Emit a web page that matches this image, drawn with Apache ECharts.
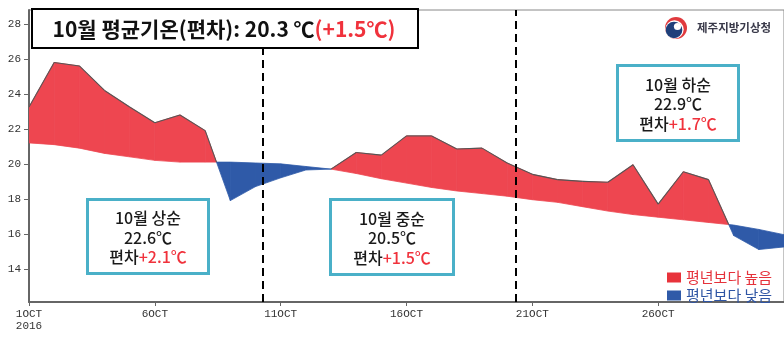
<!DOCTYPE html>
<html><head><meta charset="utf-8">
<script src="https://cdn.jsdelivr.net/npm/echarts@6/dist/echarts.min.js"></script>
<style>html,body{margin:0;padding:0;background:#fff}#c{width:784px;height:337px}</style>
</head><body><div id="c"></div>
<script>
// ---- data ----
const days = [1,2,3,4,5,6,7,8,9,10,11,12,13,14,15,16,17,18,19,20,21,22,23,24,25,26,27,28,29,30,31];
const observed = [23.25,25.8,25.6,24.2,23.25,22.35,22.8,21.9,17.9,18.7,19.2,19.65,19.7,20.65,20.5,21.6,21.6,20.85,20.9,20.05,19.4,19.1,19.0,18.95,19.95,17.7,19.55,19.1,15.9,15.1,15.25];
const normal   = [21.2,21.1,20.9,20.6,20.4,20.2,20.1,20.1,20.1,20.05,20.0,19.85,19.7,19.45,19.15,18.9,18.65,18.45,18.3,18.15,17.95,17.8,17.55,17.3,17.1,16.95,16.8,16.65,16.5,16.25,15.95];
const xTicks = [1,6,11,16,21,26];
const yTicks = [14,16,18,20,22,24,26,28];
const dividers = [10.3, 20.33];
const seriesNames = ['평년보다 높음','평년보다 낮음'];
const titleMain = '10월 평균기온(편차): 20.3 ℃';
const titleAnom = '(+1.5℃)';
const periodTitles = ['10월 상순','10월 중순','10월 하순'];
const periodMeans = ['22.6℃','20.5℃','22.9℃'];
const periodAnoms = ['+2.1℃','+1.5℃','+1.7℃'];
const orgName = '제주지방기상청';

// ---- chart ----
const RED = '#ee4650', BLUE = '#2f5aa8', TXT_RED = '#f0323c';
const segs = days.slice(0, -1).map((d, i) => [d, days[i+1], observed[i], observed[i+1], normal[i], normal[i+1]]);

function makeRender(sign, color, edge) {
  return function (params, api) {
    const x0 = api.value(0), x1 = api.value(1), o0 = api.value(2), o1 = api.value(3), n0 = api.value(4), n1 = api.value(5);
    const d0 = (o0 - n0) * sign, d1 = (o1 - n1) * sign;
    let pts, top;
    if (d0 >= 0 && d1 >= 0) {
      if (d0 === 0 && d1 === 0) return;
      pts = [[x0,o0],[x1,o1],[x1,n1],[x0,n0]]; top = [[x0,o0],[x1,o1]];
    } else if (d0 <= 0 && d1 <= 0) {
      return;
    } else {
      const t = d0 / (d0 - d1);
      const xc = x0 + t * (x1 - x0), yc = n0 + t * (n1 - n0);
      if (d0 > 0) { pts = [[x0,o0],[xc,yc],[x0,n0]]; top = [[x0,o0],[xc,yc]]; }
      else { pts = [[xc,yc],[x1,o1],[x1,n1]]; top = [[xc,yc],[x1,o1]]; }
    }
    const children = [{
      type: 'polygon', shape: { points: pts.map(p => api.coord(p)) },
      style: { fill: color, stroke: color, lineWidth: 0.8 }
    }];
    if (edge) children.push({
      type: 'polyline', z2: 10, shape: { points: top.map(p => api.coord(p)) },
      style: { stroke: edge, lineWidth: 1.1, fill: null }
    });
    return { type: 'group', children };
  };
}

const chart = echarts.init(document.getElementById('c'), null, { renderer: 'canvas' });

const boxFont = { fontFamily: 'Noto Sans CJK KR', fontSize: 16, fontWeight: 500, lineHeight: 19.5 };
function periodBox(x, y, w, h, i) {
  return {
    type: 'group', left: x, top: y, z: 100,
    children: [
      { type: 'rect', shape: { x: 0, y: 0, width: w, height: h }, style: { fill: '#fff', stroke: '#4ab0c8', lineWidth: 3 } },
      { type: 'text', x: w / 2, y: h / 2 + 1, style: {
        text: '{a|' + periodTitles[i] + '}\n{a|' + periodMeans[i] + '}\n{a|편차}{r|' + periodAnoms[i] + '}',
        align: 'center', verticalAlign: 'middle',
        rich: {
          a: Object.assign({ fill: '#1a1a1a' }, boxFont),
          r: Object.assign({ fill: TXT_RED }, boxFont)
        }
      } }
    ]
  };
}

chart.setOption({
  animation: false,
  grid: { left: 29, top: 10, width: 756, height: 292, show: true, borderColor: '#888', borderWidth: 1 },
  xAxis: {
    type: 'value', min: 1, max: 31,
    axisLine: { lineStyle: { color: '#666', width: 2 } },
    axisTick: { show: true, length: 4, lineStyle: { color: '#666' }, customValues: xTicks },
    axisLabel: {
      customValues: xTicks, margin: 6,
      fontFamily: 'Liberation Mono', fontSize: 11, color: '#333', lineHeight: 12,
      formatter: v => v === 1 ? v + 'OCT\n2016' : v + 'OCT'
    },
    splitLine: { show: false }
  },
  yAxis: {
    type: 'value', min: 12.1, max: 28.8,
    axisLine: { show: true, lineStyle: { color: '#666', width: 2 } },
    axisTick: { show: true, length: 5, lineStyle: { color: '#666' }, customValues: yTicks },
    axisLabel: { customValues: yTicks, margin: 8, fontFamily: 'Liberation Mono', fontSize: 11, color: '#333' },
    splitLine: { show: false }
  },
  legend: {
    orient: 'vertical', left: 662, top: 265, itemWidth: 14, itemHeight: 10, itemGap: 3, icon: 'rect',
    textStyle: { fontFamily: 'Noto Sans CJK KR', fontSize: 15 },
    data: [
      { name: seriesNames[0], textStyle: { color: '#e5323b' } },
      { name: seriesNames[1], textStyle: { color: '#2f55a4' } }
    ]
  },
  series: [
    {
      type: 'custom', name: seriesNames[0], data: segs, clip: true,
      encode: { x: [0, 1], y: [2, 3, 4, 5] },
      itemStyle: { color: '#e8333b' },
      renderItem: makeRender(1, RED, '#555'),
      markLine: {
        silent: true, symbol: 'none', label: { show: false },
        lineStyle: { color: '#000', width: 2, type: [8, 5] },
        data: dividers.map(v => ({ xAxis: v }))
      }
    },
    {
      type: 'custom', name: seriesNames[1], data: segs, clip: true,
      encode: { x: [0, 1], y: [2, 3, 4, 5] },
      itemStyle: { color: BLUE },
      renderItem: makeRender(-1, BLUE, null)
    }
  ],
  graphic: [
    { type: 'rect', z: 100, shape: { x: 32, y: 9, width: 386, height: 39 }, style: { fill: '#fff', stroke: '#000', lineWidth: 2 } },
    { type: 'text', z: 101, x: 224, y: 29, style: {
      text: '{a|' + titleMain + '}{b|' + titleAnom + '}', align: 'center', verticalAlign: 'middle',
      rich: {
        a: { fontFamily: 'Noto Sans CJK KR', fontSize: 21, fontWeight: 'bold', fill: '#111' },
        b: { fontFamily: 'Noto Sans CJK KR', fontSize: 21, fontWeight: 'bold', fill: TXT_RED }
      } } },
    periodBox(86, 198, 121, 74, 0),
    periodBox(329, 198, 123, 75, 1),
    periodBox(616, 64, 121, 75, 2),
    // logo
    { type: 'circle', z: 100, shape: { cx: 676, cy: 28, r: 11 }, style: { fill: '#e03a3e' } },
    { type: 'circle', z: 101, shape: { cx: 674.5, cy: 29.5, r: 9.2 }, style: { fill: '#fff' } },
    { type: 'circle', z: 102, shape: { cx: 674, cy: 30, r: 8.3 }, style: { fill: '#1f3f7a' } },
    { type: 'circle', z: 103, shape: { cx: 677.5, cy: 26.5, r: 3.6 }, style: { fill: '#fff' } },
    { type: 'text', z: 100, x: 697, y: 28, style: { text: orgName, fontFamily: 'Noto Sans CJK KR', fontSize: 11.5, fontWeight: 'bold', fill: '#3a3a4a', verticalAlign: 'middle' } }
  ]
});
</script></body></html>
